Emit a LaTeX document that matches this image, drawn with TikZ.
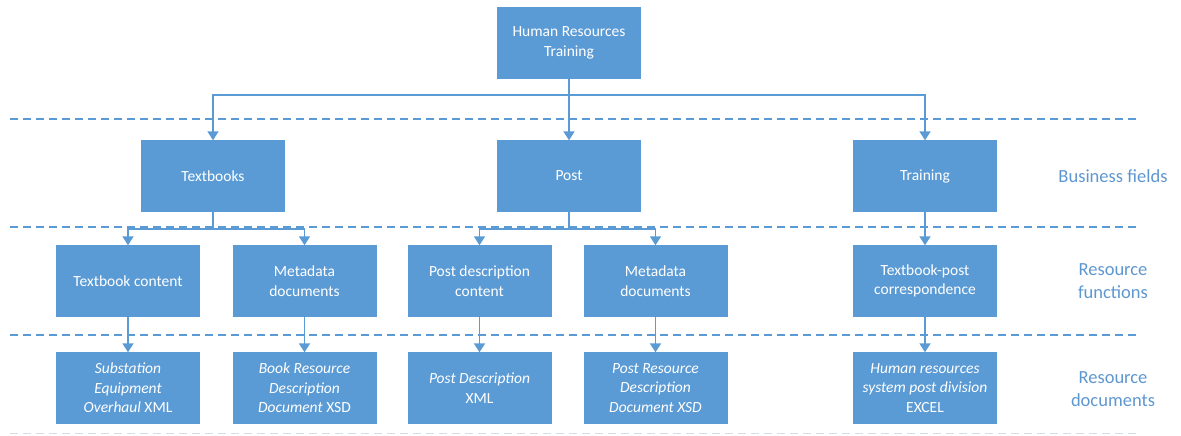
\documentclass[tikz,border=0pt]{standalone}
\usepackage{fontspec}
\setmainfont{Carlito}
\usetikzlibrary{arrows.meta}
\definecolor{boxblue}{HTML}{5B9BD5}
\definecolor{labelblue}{HTML}{5E97CF}
\definecolor{faint}{HTML}{D5DCE4}
\tikzset{
  box/.style={rectangle, fill=boxblue, draw=boxblue, minimum width=143pt, minimum height=71pt,
    inner sep=0pt, align=center, text=white, font=\fontsize{15.5}{19.5}\selectfont},
  layerlabel/.style={align=center, text=labelblue, font=\fontsize{18.5}{23}\selectfont},
  link/.style={draw=boxblue, line width=1.8pt},
  arr/.style={link, -{Triangle[width=11pt,length=9pt]}},
  divider/.style={draw=boxblue, line width=1.5pt, dash pattern=on 8pt off 5pt},
}
\begin{document}
\begin{tikzpicture}[x=1pt, y=-1pt]
\useasboundingbox (0,0) rectangle (1181,436);

% layer dividers
\draw[divider] (10,119) -- (1140,119);
\draw[divider] (10,227) -- (1140,227);
\draw[divider] (10,335) -- (1140,335);
\draw[draw=faint, line width=1pt, dash pattern=on 8pt off 5pt] (10,433) -- (1140,433);

% root
\node[box] (root) at (569,43) {Human Resources\\Training};

% business fields
\node[box] (tb) at (213,176) {Textbooks};
\node[box] (po) at (569,176) {Post};
\node[box] (tr) at (925,176) {Training};

% resource functions
\node[box] (tbc) at (128,281) {Textbook content};
\node[box] (tbm) at (304.5,281) {Metadata\\documents};
\node[box] (pdc) at (479.5,281) {Post description\\content};
\node[box] (pom) at (655.5,281) {Metadata\\documents};
\node[box] (tpc) at (925,281) {Textbook-post\\correspondence};

% resource documents
\node[box] (d1) at (128,388) {\textit{Substation}\\\textit{Equipment}\\\textit{Overhaul} XML};
\node[box] (d2) at (304.5,388) {\textit{Book Resource}\\\textit{Description}\\\textit{Document} XSD};
\node[box] (d3) at (479.5,388) {\textit{Post Description}\\XML};
\node[box] (d4) at (655.5,388) {\textit{Post Resource}\\\textit{Description}\\\textit{Document XSD}};
\node[box] (d5) at (925,388) {\textit{Human resources}\\\textit{system post division}\\EXCEL};

% layer labels
\node[layerlabel] (lb1) at (1113,176) {Business fields};
\node[layerlabel] (lb2) at (1113,281) {Resource\\functions};
\node[layerlabel] (lb3) at (1113,389) {Resource\\documents};

% root fan-out
\coordinate (j0) at (569,95);
\draw[link] (root.south) -- (j0);
\draw[arr] (j0) -| (tb.north);
\draw[arr] (j0) -| (tr.north);
\draw[arr] (j0) -- (po.north);

% textbooks fan-out
\coordinate (j1) at (213,229);
\draw[link] (tb.south) -- (j1);
\draw[arr] (j1) -| (tbc.north);
\draw[arr] (j1) -| (tbm.north);

% post fan-out
\coordinate (j2) at (569,229);
\draw[link] (po.south) -- (j2);
\draw[arr] (j2) -| (pdc.north);
\draw[arr] (j2) -| (pom.north);

% training
\draw[arr] (tr.south) -- (tpc.north);

% functions to documents
\draw[arr] (tbc.south) -- (d1.north);
\draw[arr] (tbm.south) -- (d2.north);
\draw[arr] (pdc.south) -- (d3.north);
\draw[arr] (pom.south) -- (d4.north);
\draw[arr] (tpc.south) -- (d5.north);
\end{tikzpicture}
\end{document}
